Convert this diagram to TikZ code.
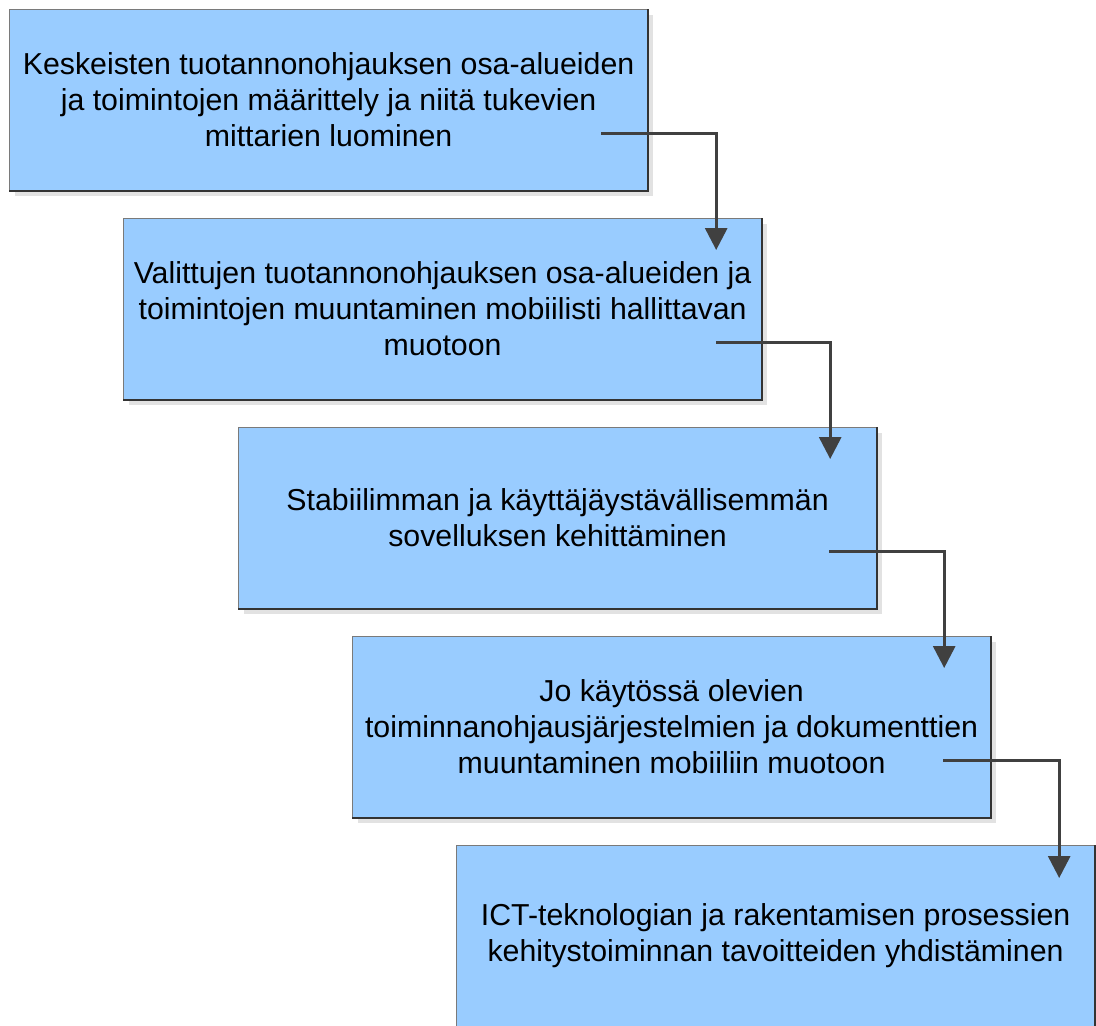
\documentclass[tikz,border=0pt]{standalone}
\usepackage{fontspec}
\setmainfont{Liberation Sans}
\usetikzlibrary{arrows.meta,shadows}
\definecolor{boxfill}{HTML}{99CCFF}
\definecolor{boxedge}{HTML}{7A7A7A}
\definecolor{boxdark}{HTML}{333333}
\definecolor{shade}{HTML}{E2E2E2}
\definecolor{flow}{HTML}{404040}
\tikzset{
  stepbox/.style={draw=boxedge, line width=1.2pt, fill=boxfill, anchor=north west,
    minimum width=638pt, minimum height=181pt, inner sep=0pt, align=center,
    font=\fontsize{30.3}{36}\selectfont,
    drop shadow={shadow xshift=5pt, shadow yshift=-5pt, fill=shade, opacity=1}},
  darkedge/.style={draw=boxdark, line width=1.6pt},
  flowline/.style={draw=flow, line width=3pt,
    -{Triangle[width=22pt,length=22pt]}}
}
\begin{document}
\begin{tikzpicture}[x=1pt,y=-1pt]
\useasboundingbox (0,0) rectangle (1096,1026);
\fill[white] (0,0) rectangle (1096,1026);

\node[stepbox] (b1) at (9,9) {Keskeisten tuotannonohjauksen osa-alueiden\\ja toimintojen määrittely ja niitä tukevien\\mittarien luominen};
\node[stepbox] (b2) at (123,218) {Valittujen tuotannonohjauksen osa-alueiden ja\\toimintojen muuntaminen mobiilisti hallittavan\\muotoon};
\node[stepbox] (b3) at (238,427) {Stabiilimman ja käyttäjäystävällisemmän\\sovelluksen kehittäminen};
\node[stepbox] (b4) at (352,636) {Jo käytössä olevien\\toiminnanohjausjärjestelmien ja dokumenttien\\muuntaminen mobiiliin muotoon};
\node[stepbox] (b5) at (456,845) {ICT-teknologian ja rakentamisen prosessien\\kehitystoiminnan tavoitteiden yhdistäminen};

% darker lower and right edges of each box
\foreach \b in {b1,b2,b3,b4,b5}
  \draw[darkedge] (\b.south west) -- (\b.south east) -- (\b.north east);

% start and end points of the connectors
\coordinate (s1) at ([xshift=-47pt,yshift=-33pt]b1.east);
\coordinate (e1) at ([xshift=-46pt,yshift=-32pt]b2.north east);
\coordinate (s2) at ([xshift=-46pt,yshift=-33pt]b2.east);
\coordinate (e2) at ([xshift=-47pt,yshift=-32pt]b3.north east);
\coordinate (s3) at ([xshift=-48pt,yshift=-33pt]b3.east);
\coordinate (e3) at ([xshift=-47pt,yshift=-32pt]b4.north east);
\coordinate (s4) at ([xshift=-48pt,yshift=-33pt]b4.east);
\coordinate (e4) at ([xshift=-36pt,yshift=-33pt]b5.north east);

\draw[flowline] (s1) -| (e1);
\draw[flowline] (s2) -| (e2);
\draw[flowline] (s3) -| (e3);
\draw[flowline] (s4) -| (e4);
\end{tikzpicture}
\end{document}
